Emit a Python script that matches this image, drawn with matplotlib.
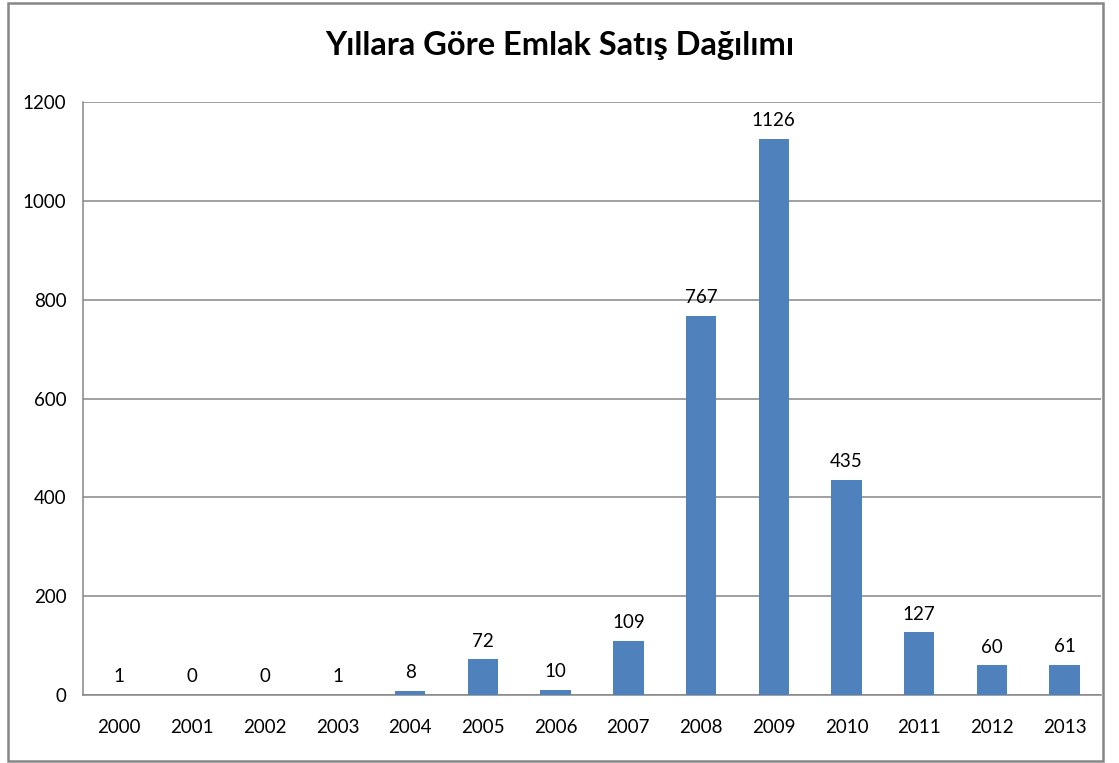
import matplotlib
matplotlib.use('Agg')
import matplotlib.pyplot as plt
from matplotlib.patches import Rectangle

years = ['2000', '2001', '2002', '2003', '2004', '2005', '2006',
         '2007', '2008', '2009', '2010', '2011', '2012', '2013']
sales = [1, 0, 0, 1, 8, 72, 10, 109, 767, 1126, 435, 127, 60, 61]
y_ticks = [0, 200, 400, 600, 800, 1000, 1200]

plt.rcParams['font.family'] = ['Lato', 'DejaVu Sans']

fig = plt.figure(figsize=(11.19, 7.63), dpi=100)
ax = fig.add_axes([83 / 1119, 1 - 695 / 763, 1018 / 1119, 593 / 763])

grey = '#868686'
x = range(len(years))
bars = ax.bar(x, sales, width=0.42, color='#4F81BD', zorder=3)
for b, v in zip(bars, sales):
    ax.annotate(f'{v}', (b.get_x() + b.get_width() / 2, b.get_height()),
                xytext=(0, 7), textcoords='offset points',
                ha='center', va='bottom', fontsize=13.5)

ax.set_xlim(-0.5, len(years) - 0.5)
ax.set_ylim(0, 1200)
ax.set_yticks(y_ticks)
ax.set_xticks(list(x))
ax.set_xticklabels(years)
ax.tick_params(axis='both', length=0, labelsize=13.5)
ax.tick_params(axis='y', pad=12)
ax.tick_params(axis='x', pad=17)
ax.yaxis.grid(True, color=grey, linewidth=1.1, zorder=0)
for s in ('top', 'right'):
    ax.spines[s].set_visible(False)
for s in ('left', 'bottom'):
    ax.spines[s].set_color(grey)
    ax.spines[s].set_linewidth(1.1)

fig.text(0.5, 1 - 45 / 763, 'Yıllara Göre Emlak Satış Dağılımı',
         ha='center', va='center', fontsize=23.5, fontweight='bold')

fig.patches.append(Rectangle((8 / 1119, 2 / 763), 1095 / 1119, 758 / 763,
                             transform=fig.transFigure, fill=False,
                             edgecolor=grey, linewidth=1.8))

fig.savefig('out.png', dpi=100)
